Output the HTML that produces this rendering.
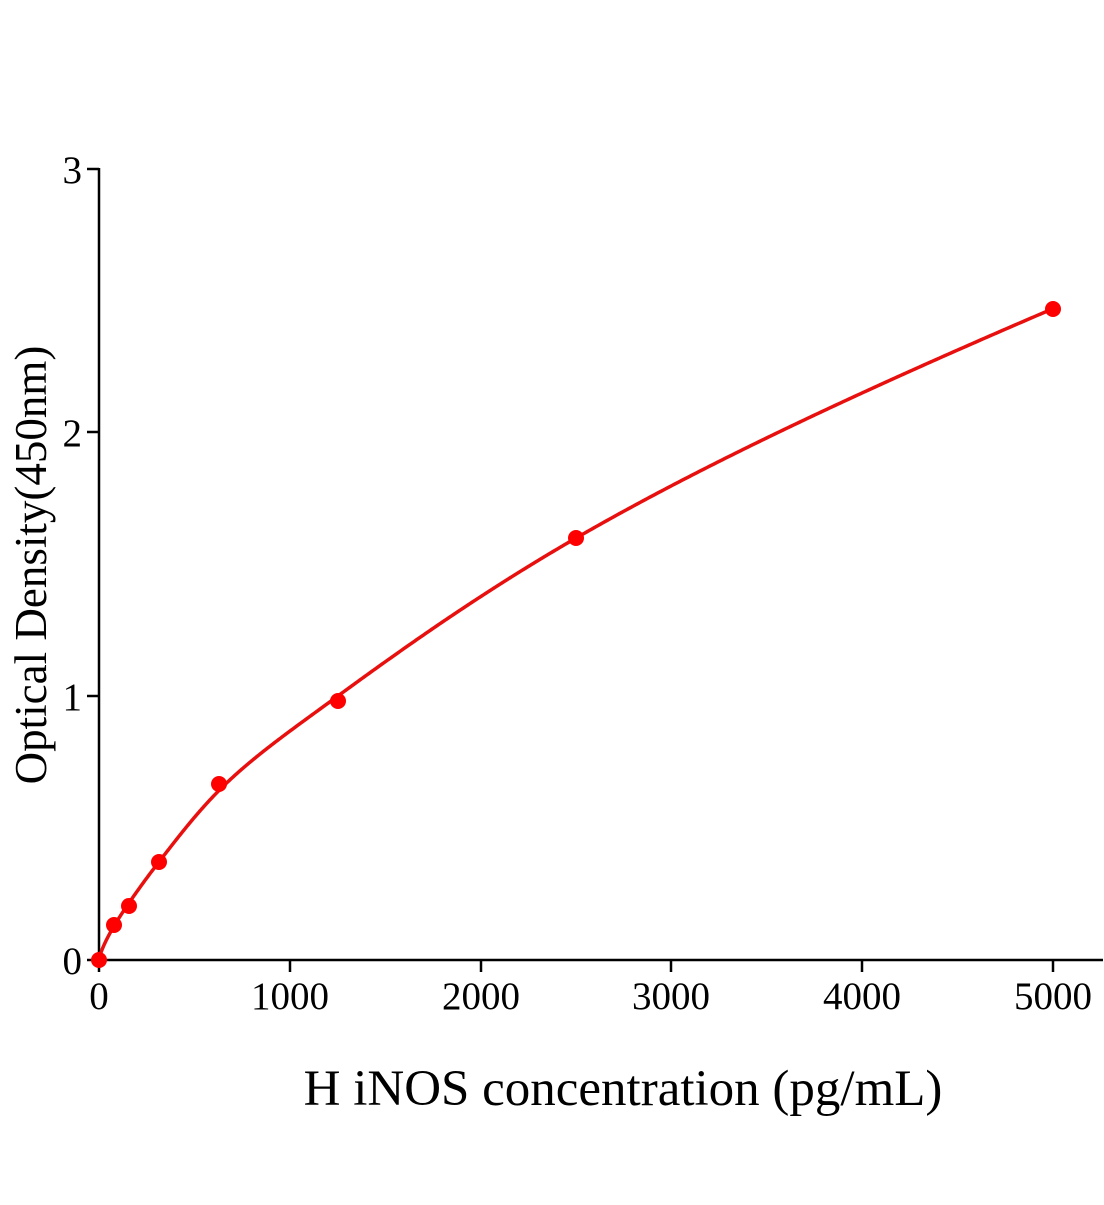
<!DOCTYPE html>
<html><head><meta charset="utf-8"><style>
html,body{margin:0;padding:0;background:#fff;}
svg text{font-family:"Liberation Serif",serif;fill:#000;}
</style></head><body>
<svg id="s" width="1104" height="1200" viewBox="0 0 1104 1200" xmlns="http://www.w3.org/2000/svg">
<g stroke="#000" stroke-width="2.5" fill="none">
<line x1="99" y1="168" x2="99" y2="961"/>
<line x1="98" y1="960" x2="1103" y2="960"/>
<line x1="87" y1="169" x2="99" y2="169"/>
<line x1="87" y1="432" x2="99" y2="432"/>
<line x1="87" y1="696" x2="99" y2="696"/>
<line x1="87" y1="960" x2="99" y2="960"/>
<line x1="99" y1="960" x2="99" y2="972"/>
<line x1="290" y1="960" x2="290" y2="972"/>
<line x1="481" y1="960" x2="481" y2="972"/>
<line x1="671" y1="960" x2="671" y2="972"/>
<line x1="862" y1="960" x2="862" y2="972"/>
<line x1="1053" y1="960" x2="1053" y2="972"/>
</g>
<g font-size="39" text-anchor="end">
<text x="82" y="183">3</text>
<text x="82" y="446">2</text>
<text x="82" y="710">1</text>
<text x="82" y="974">0</text>
</g>
<g font-size="39" text-anchor="middle">
<text x="99" y="1009">0</text>
<text x="290" y="1009">1000</text>
<text x="481" y="1009">2000</text>
<text x="671" y="1009">3000</text>
<text x="862" y="1009">4000</text>
<text x="1053" y="1009">5000</text>
</g>
<text x="623" y="1105" font-size="51" text-anchor="middle">H iNOS concentration (pg/mL)</text>
<text transform="translate(46,565) rotate(-90)" font-size="45" text-anchor="middle">Optical Density(450nm)</text>
<path id="c" stroke="#e8100f" stroke-width="3.5" fill="none"/>
<g fill="#f00">
<circle cx="99" cy="960" r="8"/>
<circle cx="114" cy="925" r="8"/>
<circle cx="129" cy="906" r="8"/>
<circle cx="159" cy="862" r="8"/>
<circle cx="219" cy="784" r="8"/>
<circle cx="338" cy="701" r="8"/>
<circle cx="576" cy="538" r="8"/>
<circle cx="1053" cy="309" r="8"/>
</g>
</svg>
<script>
// log-log Catmull-Rom through smoothed values
var xs=[78,156,312,625,1250,2500,5000], ys=[0.128,0.215,0.37,0.64,1.0,1.6,2.47];
var lx=xs.map(Math.log), ly=ys.map(Math.log);
function f(x){
 var t=Math.log(x);
 if(t<=lx[0]){ var b=(ly[1]-ly[0])/(lx[1]-lx[0]); return Math.exp(ly[0]+b*(t-lx[0])); }
 var i=0; while(i<lx.length-2 && t>lx[i+1]) i++;
 var p0=ly[i-1]!==undefined?ly[i-1]:2*ly[i]-ly[i+1], p1=ly[i], p2=ly[i+1], p3=ly[i+2]!==undefined?ly[i+2]:2*ly[i+1]-ly[i];
 var u=(t-lx[i])/(lx[i+1]-lx[i]);
 var v=0.5*((2*p1)+(-p0+p2)*u+(2*p0-5*p1+4*p2-p3)*u*u+(-p0+3*p1-3*p2+p3)*u*u*u);
 return Math.exp(v);
}
var d="M99,960";
for(var k=1;k<=600;k++){
 var x=5000*Math.pow(k/600,2);
 var px=99+x*0.1908, py=960-f(x)*263.7;
 d+=" L"+px.toFixed(2)+","+py.toFixed(2);
}
document.getElementById("c").setAttribute("d",d);
</script>
</body></html>
